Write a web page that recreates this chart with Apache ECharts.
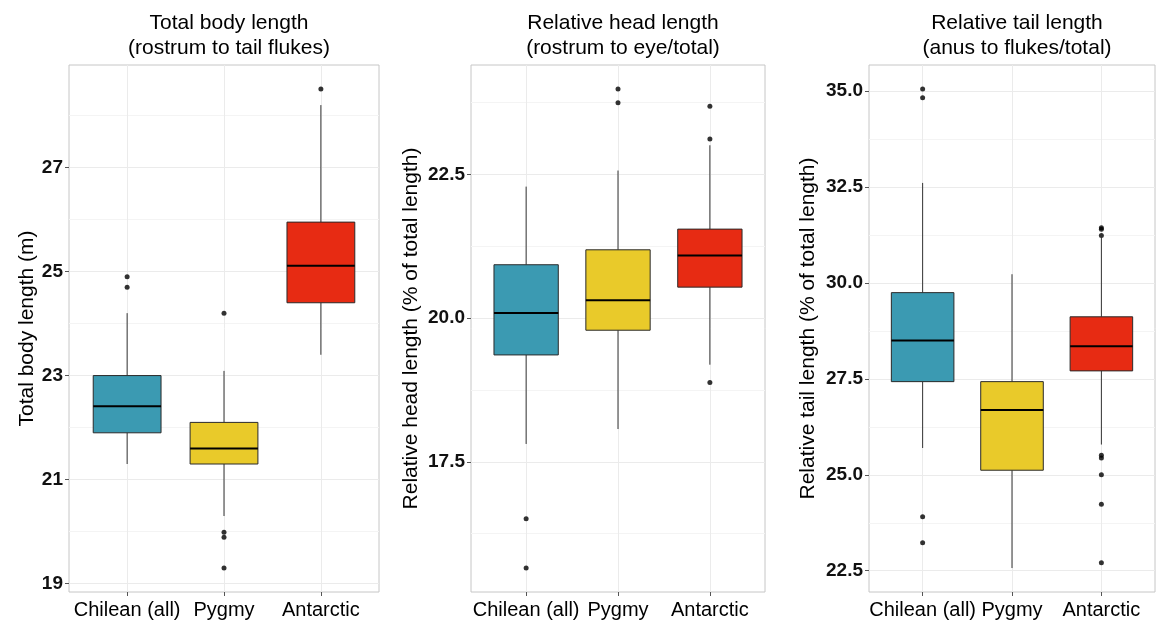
<!DOCTYPE html>
<html>
<head>
<meta charset="utf-8">
<script src="https://cdn.jsdelivr.net/npm/echarts@6/dist/echarts.min.js"></script>
<style>
html,body{margin:0;padding:0;background:#fff;}
#chart{width:1156px;height:621px;}
</style>
</head>
<body>
<div id="chart"></div>
<script>
// ---- data ----
const categories = ['Chilean (all)', 'Pygmy', 'Antarctic'];
const boxColors = ['#3B9AB2', '#E9CA2A', '#E72B13'];

const panelTitles = ['Total body length\n(rostrum to tail flukes)', 'Relative head length\n(rostrum to eye/total)', 'Relative tail length\n(anus to flukes/total)'];
const yNames = ['Total body length (m)', 'Relative head length (% of total length)', 'Relative tail length (% of total length)'];

// [lower whisker, Q1, median, Q3, upper whisker]
const lengthStats = [[21.3, 21.9, 22.41, 23.0, 24.2], [20.3, 21.3, 21.6, 22.1, 23.09], [23.4, 24.4, 25.11, 25.95, 28.2]];
const lengthOutliers = [[24.9, 24.7], [24.2, 19.99, 19.89, 19.3], [28.51]];
const lengthTicks = [19, 21, 23, 25, 27];
const lengthMinorTicks = [20, 22, 24, 26, 28];

const headStats = [[17.81, 19.36, 20.09, 20.93, 22.29], [18.07, 19.79, 20.31, 21.19, 22.57], [19.19, 20.54, 21.09, 21.55, 23.01]];
const headOutliers = [[16.51, 15.65], [23.99, 23.75], [23.69, 23.12, 18.88]];
const headTicks = [17.5, 20.0, 22.5];
const headMinorTicks = [16.25, 18.75, 21.25, 23.75];

const tailStats = [[25.7, 27.43, 28.5, 29.75, 32.61], [22.57, 25.12, 26.69, 27.43, 30.23], [25.79, 27.71, 28.35, 29.12, 31.18]];
const tailOutliers = [[35.06, 34.83, 23.91, 23.23], [], [31.44, 31.4, 31.24, 25.51, 25.44, 25.0, 24.23, 22.71]];
const tailTicks = [22.5, 25.0, 27.5, 30.0, 32.5, 35.0];
const tailMinorTicks = [23.75, 26.25, 28.75, 31.25, 33.75];

const tickDecimals = [0, 1, 1];

// ---- layout ----
const FONT = '"Liberation Sans", Arial, Helvetica, sans-serif';
const grids = [
  {left: 69, top: 65, width: 310, height: 527},
  {left: 471, top: 65, width: 294, height: 527},
  {left: 869, top: 65, width: 286, height: 527}
];
const nameGaps = [31, 49, 50];

const panels = [
  {stats: lengthStats, out: lengthOutliers, ticks: lengthTicks, minor: lengthMinorTicks},
  {stats: headStats, out: headOutliers, ticks: headTicks, minor: headMinorTicks},
  {stats: tailStats, out: tailOutliers, ticks: tailTicks, minor: tailMinorTicks}
];

function extent(p) {
  let lo = Infinity, hi = -Infinity;
  p.stats.forEach(s => { lo = Math.min(lo, s[0]); hi = Math.max(hi, s[4]); });
  p.out.forEach(o => o.forEach(v => { lo = Math.min(lo, v); hi = Math.max(hi, v); }));
  const r = hi - lo;
  return [lo - 0.05 * r, hi + 0.05 * r];
}

function renderBox(params, api) {
  const x = api.value(0);
  const p = [1, 2, 3, 4, 5].map(d => api.coord([x, api.value(d)]));
  const w = api.size([0.7, 0])[0];
  const cx = p[0][0];
  const fill = boxColors[params.dataIndex];
  return {
    type: 'group',
    children: [
      {type: 'line', shape: {x1: cx, y1: p[0][1], x2: cx, y2: p[1][1]}, style: {stroke: '#333', lineWidth: 1}},
      {type: 'line', shape: {x1: cx, y1: p[3][1], x2: cx, y2: p[4][1]}, style: {stroke: '#333', lineWidth: 1}},
      {type: 'rect', shape: {x: cx - w / 2, y: p[3][1], width: w, height: p[1][1] - p[3][1]}, style: {fill: fill, stroke: '#2a2a2a', lineWidth: 1}},
      {type: 'line', shape: {x1: cx - w / 2, y1: p[2][1], x2: cx + w / 2, y2: p[2][1]}, style: {stroke: '#000', lineWidth: 2}}
    ]
  };
}

const option = {
  backgroundColor: '#fff',
  animation: false,
  title: [], grid: [], xAxis: [], yAxis: [], series: []
};

panels.forEach((p, i) => {
  const g = grids[i];
  const [ymin, ymax] = extent(p);
  option.title.push({
    text: panelTitles[i],
    left: g.left + g.width / 2,
    top: 6,
    textAlign: 'center',
    textStyle: {fontFamily: FONT, fontSize: 21, fontWeight: 'normal', color: '#000', lineHeight: 25}
  });
  option.grid.push({left: g.left, top: g.top, width: g.width, height: g.height, show: true, borderColor: '#C6C6C6', borderWidth: 1, backgroundColor: '#fff'});
  option.xAxis.push({
    type: 'value', gridIndex: i, min: 0.4, max: 3.6,
    axisLine: {show: false},
    axisTick: {show: true, length: 4, lineStyle: {color: '#555'}, customValues: [1, 2, 3]},
    axisLabel: {show: true, margin: 8, fontFamily: FONT, fontSize: 20, color: '#000', customValues: [1, 2, 3],
      formatter: v => categories[Math.round(v) - 1]},
    splitLine: {show: true, lineStyle: {color: '#EBEBEB', width: 1}}
  });
  // major axis
  option.yAxis.push({
    type: 'value', gridIndex: i, min: ymin, max: ymax,
    name: yNames[i], nameLocation: 'middle', nameGap: nameGaps[i],
    nameTextStyle: {fontFamily: FONT, fontSize: 21, color: '#000'},
    axisLine: {show: false},
    axisTick: {show: true, length: 4, lineStyle: {color: '#555'}, customValues: p.ticks},
    axisLabel: {show: true, margin: 6, fontFamily: FONT, fontSize: 19, fontWeight: 'bold', color: '#111', customValues: p.ticks,
      formatter: v => Number(v).toFixed(tickDecimals[i])},
    splitLine: {show: true, lineStyle: {color: '#EBEBEB', width: 1}}
  });
  // minor grid axis
  option.yAxis.push({
    type: 'value', gridIndex: i, min: ymin, max: ymax, position: 'left',
    axisLine: {show: false},
    axisTick: {show: false, customValues: p.minor},
    axisLabel: {show: false, customValues: p.minor},
    splitLine: {show: true, lineStyle: {color: '#F4F4F4', width: 1}}
  });
  option.series.push({
    type: 'custom', xAxisIndex: i, yAxisIndex: 2 * i,
    data: p.stats.map((s, k) => [k + 1].concat(s)),
    encode: {x: 0, y: [1, 2, 3, 4, 5]},
    renderItem: renderBox, z: 3
  });
  const pts = [];
  p.out.forEach((o, k) => o.forEach(v => pts.push([k + 1, v])));
  option.series.push({
    type: 'scatter', xAxisIndex: i, yAxisIndex: 2 * i,
    data: pts, symbolSize: 5, itemStyle: {color: '#000'}, z: 4
  });
});

const chart = echarts.init(document.getElementById('chart'), null, {renderer: 'canvas'});
chart.setOption(option);
</script>
</body>
</html>
